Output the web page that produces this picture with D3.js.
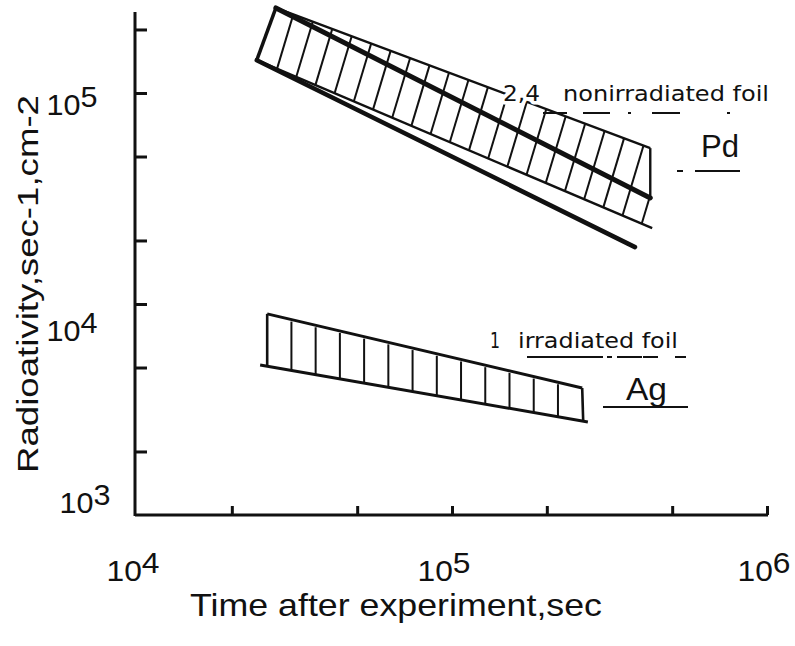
<!DOCTYPE html>
<html><head><meta charset="utf-8">
<script src="https://cdn.jsdelivr.net/npm/d3@7"></script>
<style>body{margin:0;background:#fff}svg{display:block}</style>
</head><body>
<svg id="chart" width="795" height="646"></svg>
<script>
// ---------- data ----------
const xDomain = [1e4, 1e6];
const yDomain = [1e3, 2.42e5];
const xTickValues = [2e4, 5e4, 1e5, 2e5, 5e5, 1e6];
const yTickValues = [2e3, 5e3, 1e4, 2e4, 5e4, 1e5, 2e5];
const xTickLabels = [[1e4, "10", "4"], [1e5, "10", "5"], [1e6, "10", "6"]];
const yTickLabels = [[1e3, "10", "3"], [1e4, "10", "4"], [1e5, "10", "5"]];

// Pd (nonirradiated foil, curves 2,4): [time, radioactivity]
const pdUpperEdge = [[2.76e4, 2.53e5], [4.26e5, 5.48e4]];
const pdCurve2    = [[2.76e4, 2.53e5], [4.26e5, 3.18e4]];
const pdLowerEdge = [[2.40e4, 1.43e5], [4.32e5, 2.29e4]];
const pdCurve4    = [[2.40e4, 1.43e5], [3.81e5, 1.86e4]];
// Ag (irradiated foil, curve 1)
const agUpperEdge = [[2.59e4, 8.98e3], [2.59e5, 4.00e3]];
const agLowerEdge = [[2.46e4, 5.14e3], [2.70e5, 2.76e3]];
const pdHatchCount = 20;
const agHatchCount = 12;

const xTitle = "Time after experiment,sec";
const yTitle = "Radioativity,sec-1,cm-2";
const pdNote = ["2,4", "nonirradiated foil"];
const pdName = "Pd";
const agNote = ["1", "irradiated foil"];
const agName = "Ag";

// ---------- layout ----------
const svg = d3.select("#chart");
const x = d3.scaleLog().domain(xDomain).range([137, 767]);
const y = d3.scaleLog().domain(yDomain).range([515, 12]);
const ink = "#111";

// axes
const gy = svg.append("g").attr("transform", "translate(135,0)")
  .call(d3.axisLeft(y).tickValues(yTickValues).tickSize(-12).tickSizeOuter(0).tickFormat(""));
const gx = svg.append("g").attr("transform", "translate(0,515)")
  .call(d3.axisBottom(x).tickValues(xTickValues).tickSize(-9).tickSizeOuter(0).tickFormat(""));
[gx, gy].forEach(g => {
  g.select(".domain").attr("stroke", ink).attr("stroke-width", 3);
  g.selectAll(".tick line").attr("stroke", ink).attr("stroke-width", 3);
});
gy.select(".domain").attr("d", `M0,${y(yDomain[1])}V${y(yDomain[0])+1}`);
gx.select(".domain").attr("d", `M${x(xDomain[0])-2},0H${x(xDomain[1])+1}`);

// tick labels
function sup(t, base, exp, size) {
  t.append("tspan").text(base);
  t.append("tspan").attr("dy", -size*0.28).text(exp);
}
const labelFont = "Liberation Sans, Arial, sans-serif";
const yLabOff = {3: -2, 4: 37, 5: 22};
yTickLabels.forEach(([v, b, e]) => {
  const t = svg.append("text").attr("x", e === "3" ? 85 : 72).attr("y", y(v) + yLabOff[e])
    .attr("text-anchor", "middle").attr("font-family", labelFont)
    .attr("font-size", 30).attr("fill", ink).attr("textLength", 51).attr("lengthAdjust", "spacingAndGlyphs");
  sup(t, b, e, 30);
});
const xLabOff = {4: -4, 5: -8, 6: -3};
xTickLabels.forEach(([v, b, e]) => {
  const t = svg.append("text").attr("x", x(v) + xLabOff[e]).attr("y", 581)
    .attr("text-anchor", "middle").attr("font-family", labelFont)
    .attr("font-size", 30).attr("fill", ink).attr("textLength", 53).attr("lengthAdjust", "spacingAndGlyphs");
  sup(t, b, e, 30);
});

// axis titles
svg.append("text").attr("transform", "translate(38,284) rotate(-90)")
  .attr("text-anchor", "middle").attr("font-family", labelFont)
  .attr("font-size", 29).attr("fill", ink).attr("textLength", 378).attr("lengthAdjust", "spacingAndGlyphs")
  .text(yTitle);
svg.append("text").attr("x", 190).attr("y", 616)
  .attr("font-family", "Liberation Sans Narrow, Liberation Sans, Arial, sans-serif")
  .attr("font-size", 32).attr("fill", ink).attr("textLength", 412).attr("lengthAdjust", "spacingAndGlyphs")
  .text(xTitle);

// helpers
const px = d => [x(d[0]), y(d[1])];
const lineGen = d3.line().x(d => x(d[0])).y(d => y(d[1]));
function yAtPx(seg, X) {
  const [x0, y0] = px(seg[0]), [x1, y1] = px(seg[1]);
  return y0 + (X - x0) * (y1 - y0) / (x1 - x0);
}

// ---------- Pd band ----------
const pdRight = x(pdUpperEdge[1][0]);
const pdPoly = [px(pdUpperEdge[0]), px(pdUpperEdge[1]),
  [pdRight, yAtPx(pdLowerEdge, pdRight)], px(pdLowerEdge[0])];
svg.append("clipPath").attr("id", "pdclip").append("polygon").attr("points", pdPoly.map(p => p.join(",")).join(" "));
const gPd = svg.append("g").attr("clip-path", "url(#pdclip)");
const pdX0 = x(pdLowerEdge[0][0]), pdX1 = pdRight;
for (let i = 1; i <= pdHatchCount; i++) {
  const xb = pdX0 + (pdX1 - pdX0) * i / (pdHatchCount + 0.5);
  const yb = yAtPx(pdLowerEdge, xb) + 4;
  const h = 110;
  gPd.append("line").attr("x1", xb).attr("y1", yb).attr("x2", xb + 0.3*h).attr("y2", yb - h)
    .attr("stroke", ink).attr("stroke-width", 2);
}
// edges
svg.append("path").attr("d", lineGen(pdUpperEdge)).attr("fill", "none").attr("stroke", ink).attr("stroke-width", 2.4);
svg.append("path").attr("d", lineGen(pdLowerEdge)).attr("fill", "none").attr("stroke", ink).attr("stroke-width", 2.4);
svg.append("line").attr("x1", x(pdUpperEdge[0][0])).attr("y1", y(pdUpperEdge[0][1]))
  .attr("x2", x(pdLowerEdge[0][0])).attr("y2", y(pdLowerEdge[0][1])).attr("stroke", ink).attr("stroke-width", 3.5);
svg.append("line").attr("x1", pdRight).attr("y1", y(pdUpperEdge[1][1]))
  .attr("x2", pdRight).attr("y2", yAtPx(pdCurve2, pdRight)).attr("stroke", ink).attr("stroke-width", 2.4);
svg.append("path").attr("d", lineGen(pdCurve2)).attr("fill", "none").attr("stroke", ink).attr("stroke-width", 5).attr("stroke-linecap", "round");
svg.append("path").attr("d", lineGen(pdCurve4)).attr("fill", "none").attr("stroke", ink).attr("stroke-width", 4.5).attr("stroke-linecap", "round");

// ---------- Ag band ----------
const agL = x(agUpperEdge[0][0]), agR = x(agUpperEdge[1][0]);
svg.append("path").attr("d", lineGen(agUpperEdge)).attr("fill", "none").attr("stroke", ink).attr("stroke-width", 3);
svg.append("path").attr("d", lineGen(agLowerEdge)).attr("fill", "none").attr("stroke", ink).attr("stroke-width", 3);
[agL, agR].forEach(X => svg.append("line").attr("x1", X).attr("x2", X + (X === agR ? 1 : 0))
  .attr("y1", yAtPx(agUpperEdge, X)).attr("y2", yAtPx(agLowerEdge, X)).attr("stroke", ink).attr("stroke-width", 2.6));
for (let i = 1; i <= agHatchCount; i++) {
  const X = agL + (agR - agL) * i / (agHatchCount + 1);
  svg.append("line").attr("x1", X).attr("x2", X).attr("y1", yAtPx(agUpperEdge, X) + 2)
    .attr("y2", yAtPx(agLowerEdge, X)).attr("stroke", ink).attr("stroke-width", 2);
}

// ---------- annotations ----------
const noteFont = "DejaVu Sans, Verdana, sans-serif";
const note = (tx, xx, yy, len, size, fam) => svg.append("text").attr("x", xx).attr("y", yy)
  .attr("font-family", fam || noteFont).attr("font-size", size).attr("fill", ink)
  .attr("stroke", "#fff").attr("stroke-width", 7).attr("paint-order", "stroke").attr("stroke-linejoin", "round")
  .attr("textLength", len).attr("lengthAdjust", "spacingAndGlyphs").text(tx);
note(pdNote[0], 503, 101, 37, 21);
note(pdNote[1], 563, 101, 206, 21);
note(pdName, 701, 157, 38, 31, labelFont);
note(agNote[0], 490, 348, 10, 21);
note(agNote[1], 518, 348, 160, 21);
note(agName, 626, 400, 41, 31, labelFont);

// underlines (scanned, broken)
const ul = (x1, x2, yy, dash, w) => svg.append("line").attr("x1", x1).attr("x2", x2).attr("y1", yy).attr("y2", yy)
  .attr("stroke", ink).attr("stroke-width", w).attr("stroke-dasharray", dash);
ul(543, 732, 113, "24,16,27,18,3,21,28,47,3", 1.8);
ul(677, 740, 171, "6,12,45", 2);
ul(527, 686, 357, "76,4,5,5,25,1,15,17,11", 2);
ul(603, 688, 407, null, 2.2);
</script>
</body></html>
